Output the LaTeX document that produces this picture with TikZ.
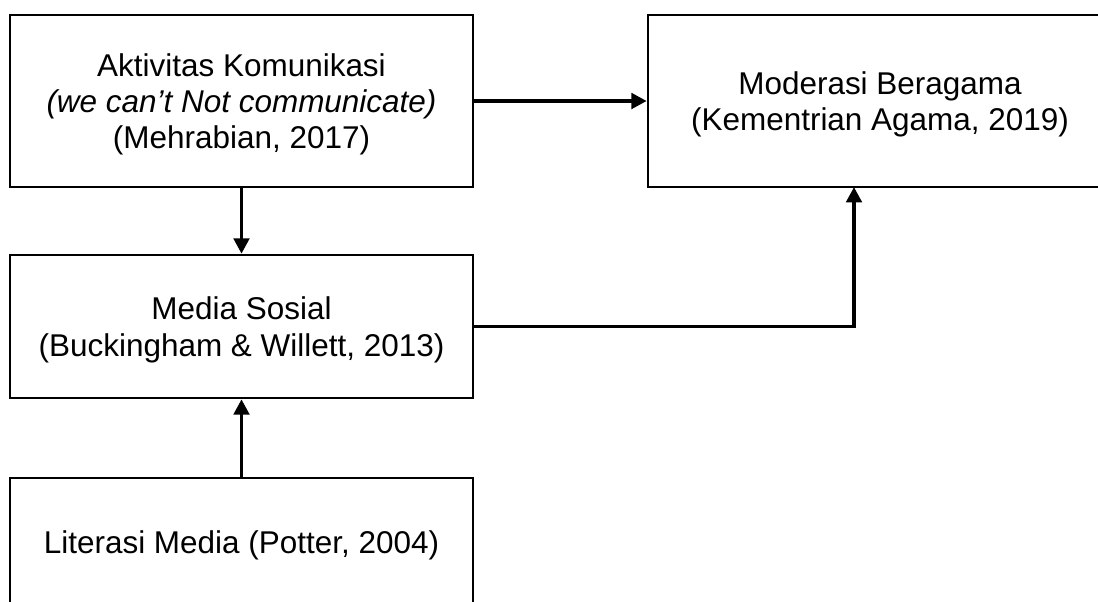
\documentclass[tikz,border=0pt]{standalone}
\usepackage{fontspec}
\setmainfont{Liberation Sans}
\usetikzlibrary{arrows.meta}
\tikzset{
  box/.style={draw=black, line width=1.9pt, rectangle, inner sep=0pt, align=center,
    text depth=0pt, font=\fontsize{23.6pt}{27.2pt}\selectfont},
  conn/.style={line width=2.8pt, -{Triangle[length=11.5pt,width=11.5pt]}},
}
\begin{document}
\begin{tikzpicture}[x=0.75pt, y=-0.75pt]
\useasboundingbox (0,0) rectangle (1098,601);
\clip (0,0) rectangle (1098,601);
\fill[white] (0,0) rectangle (1098,601);
\node[box, minimum width=463*0.75pt, minimum height=172*0.75pt] (b1) at (241.5,101)
  {Aktivitas Komunikasi\\ \textit{(we can’t Not communicate)}\\ (Mehrabian, 2017)};
\node[box, minimum width=464*0.75pt, minimum height=172*0.75pt] (b2) at (880,101)
  {Moderasi Beragama\\ (Kementrian Agama, 2019)};
\node[box, minimum width=463*0.75pt, minimum height=143*0.75pt] (b3) at (241.5,326.5)
  {Media Sosial\\ (Buckingham \& Willett, 2013)};
\node[box, minimum width=463*0.75pt, minimum height=128*0.75pt] (b4) at (241.5,542)
  {Literasi Media (Potter, 2004)};
\coordinate (t) at (854,187);
\draw[conn] (b1.east) -- (b2.west);
\draw[conn] (b1.south) -- (b3.north);
\draw[conn] (b4.north) -- (b3.south);
\draw[conn] (b3.east) -| (t);
\end{tikzpicture}
\end{document}
